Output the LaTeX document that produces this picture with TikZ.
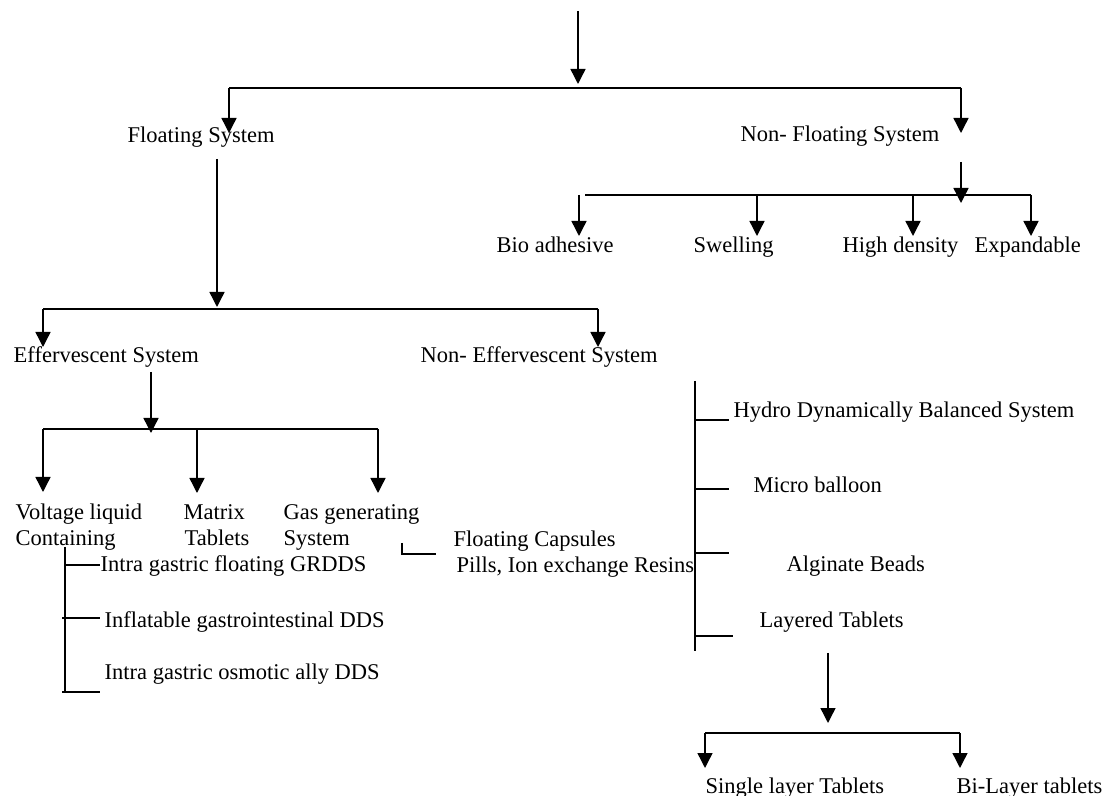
\documentclass[tikz,border=0pt]{standalone}
\usepackage{fontspec}
\setmainfont{Liberation Serif}
\usetikzlibrary{arrows.meta}

\begin{document}
\begin{tikzpicture}[x=0.5pt, y=-0.5pt, line width=0.7pt,
    >={Triangle[width=7.5pt,length=7.5pt]},
    txt/.style={inner sep=0, anchor=base west, font=\fontsize{11.25}{13}\selectfont},
    txtr/.style={txt, anchor=base east}
  ]
  \useasboundingbox (0,0) rectangle (1104,796);

  % labels
  \node[txt]  (fs)   at (127,143) {Floating System};
  \node[txtr] (nfs)  at (940,142) {Non- Floating System};
  \node[txt]  (bio)  at (496,253) {Bio adhesive};
  \node[txt]  (swl)  at (693,253) {Swelling};
  \node[txt]  (hd)   at (842,253) {High density};
  \node[txt]  (exp)  at (974,253) {Expandable};
  \node[txt]  (eff)  at (13,363)  {Effervescent System};
  \node[txt]  (neff) at (420,363) {Non- Effervescent System};
  \node[txt]  (vlcA) at (15,520)  {Voltage liquid};
  \node[txt]  (vlcB) at (15,546)  {Containing};
  \node[txt]  (mtA)  at (183,520) {Matrix};
  \node[txt]  (mtB)  at (184,546) {Tablets};
  \node[txt]  (gasA) at (283,520) {Gas generating};
  \node[txt]  (gasB) at (283,546) {System};
  \node[txt]  (igf)  at (100,572) {Intra gastric floating GRDDS};
  \node[txt]  (igi)  at (104,628) {Inflatable gastrointestinal DDS};
  \node[txt]  (igo)  at (104,680) {Intra gastric osmotic ally DDS};
  \node[txt]  (fc)   at (453,547) {Floating Capsules};
  \node[txt]  (pil)  at (456,573) {Pills, Ion exchange Resins};
  \node[txt]  (hdb)  at (733,418) {Hydro Dynamically Balanced System};
  \node[txt]  (mb)   at (753,493) {Micro balloon};
  \node[txt]  (alg)  at (786,572) {Alginate Beads};
  \node[txt]  (lay)  at (759,628) {Layered Tablets};
  \node[txt]  (slt)  at (705,793) {Single layer Tablets};
  \node[txt]  (blt)  at (956,793) {Bi-Layer tablets};

  % junction points
  \foreach \n/\x/\y in {root/578/11, rootT/578/84, b1L/229/88, b1R/961/88,
      fsT/229/133, nfsT/961/133, fsB/217/159, fsE/217/307,
      b2L/43/309, b2R/598/309, effT/43/347, neffT/598/347,
      nfsB/961/162, nfsE/961/203, b3L/585/195, b3R/1031/195,
      bioT/579/236, swlT/757/236, hdT/913/236, expT/1031/236,
      effB/151/372, effE/151/433, b4L/43/429, b4R/378/429,
      vlcT/43/492, mtT/197/493, gasT/378/493,
      vl1/65/547, vl2/65/693, t1/100/565, t2/100/618, t3/100/692,
      gs1/402/543, gs2/402/554, gs3/436/554,
      ne1/695/381, ne2/695/651, u1/729/420, u2/729/489, u3/729/553, u4/733/636,
      layB/828/653, layE/828/723, b5L/705/733, b5R/960/733,
      sltT/705/768, bltT/960/768}
    \coordinate (\n) at (\x,\y);

  % top level
  \draw[->] (root) -- (rootT);
  \draw (b1L) -- (b1R);
  \foreach \t in {fsT, nfsT} \draw[->] (\t |- b1L) -- (\t);

  % non-floating
  \draw[->] (nfsB) -- (nfsE);
  \draw (b3L) -- (b3R);
  \foreach \t in {bioT, swlT, hdT, expT} \draw[->] (\t |- b3L) -- (\t);

  % floating
  \draw[->] (fsB) -- (fsE);
  \draw (b2L) -- (b2R);
  \foreach \t in {effT, neffT} \draw[->] (\t |- b2L) -- (\t);

  % effervescent
  \draw[->] (effB) -- (effE);
  \draw (b4L) -- (b4R);
  \foreach \t in {vlcT, mtT, gasT} \draw[->] (\t |- b4L) -- (\t);
  \draw (vl1) -- (vl2);
  \draw (vl1 |- t1) -- (t1);
  \draw ([xshift=-1.5pt]vl1 |- t2) -- (t2);
  \draw ([xshift=-1.5pt]vl1 |- t3) -- (t3);
  \draw (gs1) -- (gs2) -- (gs3);

  % non-effervescent
  \draw (ne1) -- (ne2);
  \foreach \u in {u1, u2, u3, u4} \draw (ne1 |- \u) -- (\u);
  \draw[->] (layB) -- (layE);
  \draw (b5L) -- (b5R);
  \foreach \t in {sltT, bltT} \draw[->] (\t |- b5L) -- (\t);
\end{tikzpicture}
\end{document}
